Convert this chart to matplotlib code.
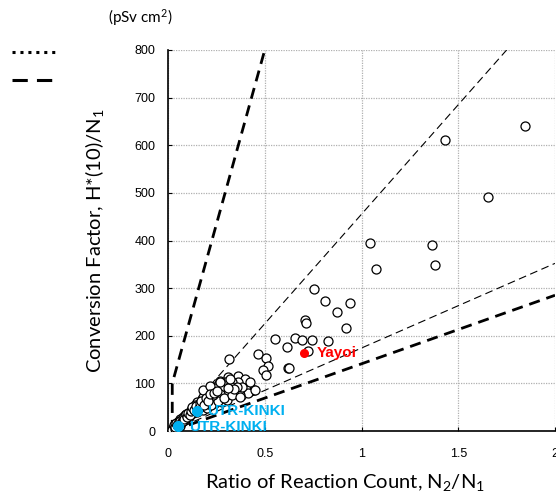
import matplotlib
matplotlib.use("Agg")
import matplotlib.pyplot as plt
from matplotlib.lines import Line2D

plt.rcParams["font.family"] = ["Liberation Sans", "DejaVu Sans"]
plt.rcParams["mathtext.fontset"] = "custom"
plt.rcParams["mathtext.rm"] = "Lato"
plt.rcParams["mathtext.it"] = "Lato"

# measured sites: ratio N2/N1 and conversion factor H*(10)/N1 (pSv cm^2)
ratio = [
    1.843, 1.432, 1.653, 1.045, 1.363, 1.076, 1.380, 0.756, 0.812, 0.943,
    0.874, 0.708, 0.713, 0.922, 0.554, 0.658, 0.694, 0.746, 0.825, 0.617,
    0.724, 0.466, 0.509, 0.316, 0.515, 0.490, 0.618, 0.625, 0.504, 0.309,
    0.361, 0.399, 0.364, 0.330, 0.295, 0.408, 0.442, 0.416, 0.373, 0.382,
    0.355, 0.330, 0.295, 0.260, 0.226, 0.209, 0.209, 0.278, 0.304, 0.244,
    0.192, 0.226, 0.175, 0.244, 0.260, 0.157, 0.209, 0.114, 0.088, 0.071,
    0.054, 0.036, 0.027, 0.270, 0.250, 0.280, 0.320, 0.300, 0.270, 0.230,
    0.190, 0.170, 0.140, 0.130, 0.120, 0.100, 0.095, 0.080, 0.070, 0.060,
    0.050, 0.045, 0.040, 0.030, 0.025, 0.020, 0.035, 0.060, 0.065, 0.090,
    0.110, 0.150, 0.180, 0.200, 0.220, 0.260, 0.290, 0.330, 0.340, 0.180,
    0.200, 0.235, 0.310, 0.183, 0.150, 0.140, 0.218, 0.269, 0.321, 0.425,
    0.451, 0.373, 0.030, 0.038, 0.042, 0.048, 0.055, 0.058, 0.063, 0.068,
    0.075, 0.078, 0.085, 0.092, 0.098, 0.105, 0.112, 0.118, 0.125, 0.135,
    0.145, 0.160, 0.165, 0.172, 0.185, 0.195, 0.205, 0.215, 0.240, 0.255,
]
factor = [
    640, 612, 492, 395, 391, 340, 348, 298, 273, 269,
    250, 233, 226, 216, 193, 196, 192, 192, 189, 177,
    168, 161, 154, 151, 136, 129, 133, 132, 118, 113,
    115, 110, 103, 103, 103, 86, 86, 79, 75, 93,
    93, 86, 80, 72, 93, 86, 72, 61, 65, 58,
    79, 82, 68, 68, 96, 54, 54, 40, 33, 26,
    19, 12, 6, 105, 90, 88, 95, 75, 78, 62,
    60, 50, 47, 38, 45, 35, 28, 30, 22, 25,
    15, 14, 10, 8, 4, 3, 5, 10, 18, 24,
    30, 40, 45, 48, 55, 64, 70, 76, 88, 72,
    66, 75, 90, 86, 60, 55, 94, 103, 110, 103,
    86, 72, 12, 9, 16, 12, 22, 14, 20, 16,
    28, 20, 26, 36, 30, 38, 34, 42, 50, 44,
    52, 48, 58, 62, 55, 70, 62, 78, 80, 85,
]

yayoi = (0.703, 163)
utr_x = [0.149, 0.054]
utr_y = [42, 10]

# reference lines (x, y)
steep_x = [0.022, 0.022, 0.5]
steep_y = [0, 100, 800]
upper_x = [0.01, 1.75]
upper_y = [0, 800]
lower_x = [0.02, 2.0]
lower_y = [0, 352]
bottom_x = [0.02, 2.0]
bottom_y = [0, 285]

fig = plt.figure(figsize=(5.56, 4.95), dpi=100)
ax = fig.add_axes([168 / 556, 64 / 495, 387 / 556, 381 / 495])

ax.plot(steep_x, steep_y, color="black", lw=2, dashes=(4, 2.5), zorder=2)
ax.plot(upper_x, upper_y, color="black", lw=0.8, dashes=(7, 4), zorder=2)
ax.plot(lower_x, lower_y, color="black", lw=0.8, dashes=(7, 4), zorder=2)
ax.plot(bottom_x, bottom_y, color="black", lw=2, dashes=(4, 2.5), zorder=2)

ax.plot(ratio, factor, "o", ms=6.5, mfc="white", mec="black", mew=0.9,
        linestyle="none", zorder=3)
ax.plot(*yayoi, "o", ms=5.5, color="#ff0000", zorder=4)
ax.plot(utr_x, utr_y, "o", ms=7, color="#00b0f0", zorder=4)

ax.text(0.767, 163, "Yayoi", color="#ff0000", fontsize=11, fontweight="bold",
        va="center", ha="left", zorder=5)
ax.text(0.202, 42, "UTR-KINKI", color="#00b0f0", fontsize=11,
        fontweight="bold", va="center", ha="left", zorder=5)
ax.text(0.109, 9, "UTR-KINKI", color="#00b0f0", fontsize=11,
        fontweight="bold", va="center", ha="left", zorder=5, clip_on=False)

ax.set_xlim(0, 2)
ax.set_ylim(0, 800)
ax.set_xticks([0, 0.5, 1, 1.5, 2])
ax.set_xticklabels(["0", "0.5", "1", "1.5", "2"])
ax.set_yticks(range(0, 801, 100))
ax.tick_params(direction="in", length=3, labelsize=9, width=0.8)
ax.tick_params(axis="x", pad=12)
ax.tick_params(axis="y", pad=9)
ax.grid(True, color="#b0b0b0", linestyle=(0, (1, 1)), lw=0.9)
ax.set_axisbelow(True)
for side in ["top", "right"]:
    ax.spines[side].set_visible(False)
for side in ["left", "bottom"]:
    ax.spines[side].set_linewidth(1.2)

ax.set_xlabel(r"Ratio of Reaction Count, N$_2$/N$_1$", family="Lato",
              fontsize=14.5, va="center")
ax.xaxis.set_label_coords(0.457, -0.136)
ax.set_ylabel(r"Conversion Factor, H*(10)/N$_1$", family="Lato",
              fontsize=14.5, va="center")
ax.yaxis.set_label_coords(-0.189, 0.499)
fig.text(140 / 556, 1 - 18 / 495, "(pSv cm$^2$)", family="Lato", fontsize=11,
         ha="center", va="center")

# legend keys (their labels are cut off in the source)
fig.add_artist(Line2D([12 / 556, 57 / 556], [1 - 52 / 495, 1 - 52 / 495],
                      color="black", lw=2.2, dashes=(1, 1.6)))
fig.add_artist(Line2D([12 / 556, 60 / 556], [1 - 80 / 495, 1 - 80 / 495],
                      color="black", lw=2.2, dashes=(5, 3)))

fig.savefig("out.png", dpi=100)
